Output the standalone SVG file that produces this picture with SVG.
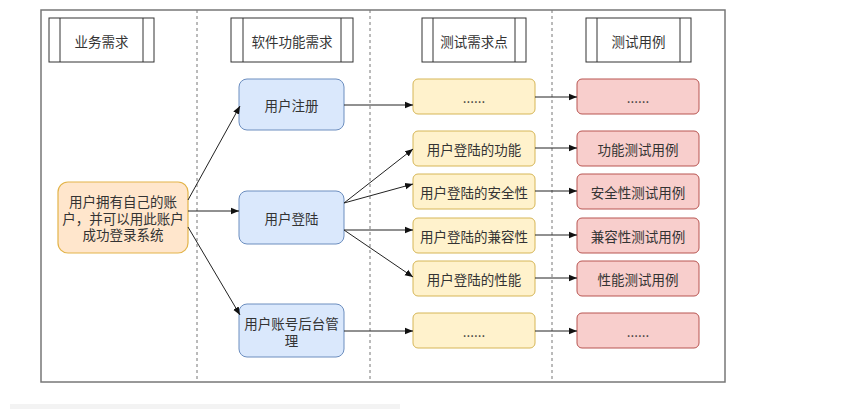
<svg xmlns="http://www.w3.org/2000/svg" width="859" height="409" viewBox="0 0 859 409">
<defs>
<style>
text{font-family:"Noto Sans CJK SC","Noto Sans",sans-serif;font-size:13.5px;fill:#333;text-anchor:middle;dominant-baseline:central}
.hdr{fill:#fff;stroke:#333;stroke-width:1}
.blue{fill:#dae8fc;stroke:#6c8ebf;stroke-width:1}
.orange{fill:#ffe6cc;stroke:#e3b44a;stroke-width:1.2}
.yellow{fill:#fff2cc;stroke:#d6b656;stroke-width:1}
.red{fill:#f8cecc;stroke:#b85450;stroke-width:1}
.div{stroke:#777;stroke-width:1;stroke-dasharray:3 3}
.edge{fill:none;stroke:#222;stroke-width:1;marker-end:url(#arr)}
</style>
<marker id="arr" viewBox="0 0 10 10" refX="10" refY="5" markerWidth="8" markerHeight="8" markerUnits="userSpaceOnUse" orient="auto">
<path d="M0,1 L10,5 L0,9 Z" fill="#111"/>
</marker>
</defs>
<rect x="0" y="0" width="859" height="409" fill="#fff"/>
<rect x="10" y="404" width="390" height="5" fill="#f3f3f3"/>
<g id="frame">
<rect x="41" y="10" width="684" height="372" fill="none" stroke="#777" stroke-width="1.5"/>
<line class="div" x1="197" y1="10" x2="197" y2="382"/>
<line class="div" x1="370" y1="10" x2="370" y2="382"/>
<line class="div" x1="552" y1="10" x2="552" y2="382"/>
</g>
<g id="h1"><rect class="hdr" x="49" y="18" width="105" height="44"/><line class="hdr" x1="60" y1="18" x2="60" y2="62"/><line class="hdr" x1="143" y1="18" x2="143" y2="62"/><text x="101.5" y="41">业务需求</text></g>
<g id="h2"><rect class="hdr" x="231" y="18" width="122" height="44"/><line class="hdr" x1="243" y1="18" x2="243" y2="62"/><line class="hdr" x1="341" y1="18" x2="341" y2="62"/><text x="292" y="41">软件功能需求</text></g>
<g id="h3"><rect class="hdr" x="422" y="18" width="104" height="44"/><line class="hdr" x1="433" y1="18" x2="433" y2="62"/><line class="hdr" x1="515" y1="18" x2="515" y2="62"/><text x="474" y="41">测试需求点</text></g>
<g id="h4"><rect class="hdr" x="586" y="18" width="105" height="44"/><line class="hdr" x1="597" y1="18" x2="597" y2="62"/><line class="hdr" x1="680" y1="18" x2="680" y2="62"/><text x="638.5" y="41">测试用例</text></g>

<g id="biz"><rect class="orange" x="58" y="182" width="130" height="71" rx="10"/><text x="123" y="201">用户拥有自己的账</text><text x="123" y="218">户，并可以用此账户</text><text x="123" y="234">成功登录系统</text></g>

<g id="reg"><rect class="blue" x="239" y="79" width="105" height="51" rx="8"/><text x="291.5" y="105">用户注册</text></g>
<g id="login"><rect class="blue" x="239" y="191" width="105" height="53" rx="8"/><text x="291.5" y="218">用户登陆</text></g>
<g id="admin"><rect class="blue" x="239" y="304" width="105" height="53" rx="8"/><text x="291.5" y="323">用户账号后台管</text><text x="291.5" y="340">理</text></g>

<g id="t1"><rect class="yellow" x="413" y="79" width="122" height="35" rx="5"/><text x="474" y="96.5">......</text></g>
<g id="t2"><rect class="yellow" x="413" y="131" width="122" height="35" rx="5"/><text x="474" y="148.5">用户登陆的功能</text></g>
<g id="t3"><rect class="yellow" x="413" y="174" width="122" height="35" rx="5"/><text x="474" y="191.5">用户登陆的安全性</text></g>
<g id="t4"><rect class="yellow" x="413" y="218" width="122" height="35" rx="5"/><text x="474" y="235.5">用户登陆的兼容性</text></g>
<g id="t5"><rect class="yellow" x="413" y="261" width="122" height="35" rx="5"/><text x="474" y="278.5">用户登陆的性能</text></g>
<g id="t6"><rect class="yellow" x="413" y="313" width="122" height="35" rx="5"/><text x="474" y="330.5">......</text></g>

<g id="c1"><rect class="red" x="577" y="79" width="122" height="35" rx="5"/><text x="638" y="96.5">......</text></g>
<g id="c2"><rect class="red" x="577" y="131" width="122" height="35" rx="5"/><text x="638" y="148.5">功能测试用例</text></g>
<g id="c3"><rect class="red" x="577" y="174" width="122" height="35" rx="5"/><text x="638" y="191.5">安全性测试用例</text></g>
<g id="c4"><rect class="red" x="577" y="218" width="122" height="35" rx="5"/><text x="638" y="235.5">兼容性测试用例</text></g>
<g id="c5"><rect class="red" x="577" y="261" width="122" height="35" rx="5"/><text x="638" y="278.5">性能测试用例</text></g>
<g id="c6"><rect class="red" x="577" y="313" width="122" height="35" rx="5"/><text x="638" y="330.5">......</text></g>

<g id="edges">
<line class="edge" x1="188" y1="200" x2="240" y2="106"/>
<line class="edge" x1="188" y1="211" x2="239" y2="211"/>
<line class="edge" x1="188" y1="227" x2="240" y2="315"/>
<line class="edge" x1="344" y1="105" x2="413" y2="105"/>
<line class="edge" x1="344" y1="203" x2="413" y2="149"/>
<line class="edge" x1="344" y1="203" x2="413" y2="184"/>
<line class="edge" x1="344" y1="230" x2="413" y2="230"/>
<line class="edge" x1="344" y1="230" x2="413" y2="277"/>
<line class="edge" x1="344" y1="331" x2="413" y2="331"/>
<line class="edge" x1="535" y1="97" x2="577" y2="97"/>
<line class="edge" x1="535" y1="148" x2="577" y2="148"/>
<line class="edge" x1="535" y1="191" x2="577" y2="191"/>
<line class="edge" x1="535" y1="235" x2="577" y2="235"/>
<line class="edge" x1="535" y1="278" x2="577" y2="278"/>
<line class="edge" x1="535" y1="331" x2="577" y2="331"/>
</g>
</svg>
